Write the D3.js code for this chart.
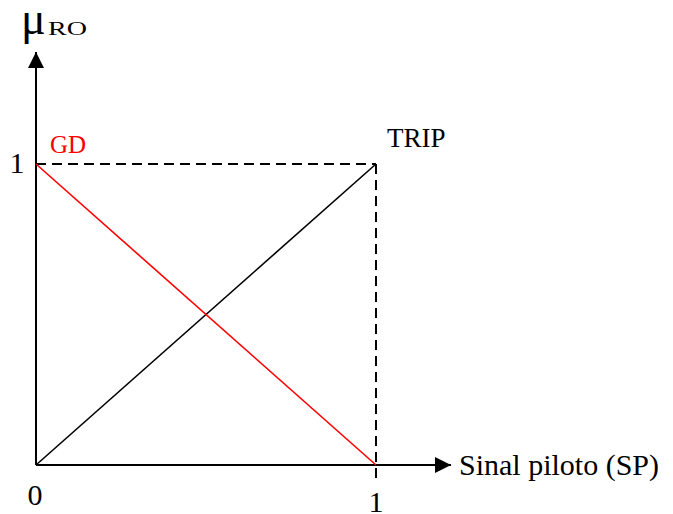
<!DOCTYPE html>
<html lang="pt">
<head>
<meta charset="UTF-8">
<title>Sinal piloto</title>
<script src="https://d3js.org/d3.v7.min.js"></script>
<style>
  body { margin: 0; padding: 0; background: #fff; }
  svg { display: block; font-family: "Liberation Serif", "Times New Roman", serif; }
</style>
</head>
<body>
<svg id="chart"></svg>
<script>
// membership functions for the pilot signal
const spValues = [0, 1];
const tripValues = [0, 1];
const gdValues = [1, 0];
const xTicks = [0, 1];
const yTicks = [1];

const width = 673, height = 514;
const svg = d3.select("#chart").attr("width", width).attr("height", height);

const x = d3.scaleLinear().domain([0, 1]).range([36, 376]);
const y = d3.scaleLinear().domain([0, 1]).range([465, 164]);

svg.append("defs").append("marker")
  .attr("id", "arrow")
  .attr("viewBox", "0 0 16 16")
  .attr("refX", 16).attr("refY", 8)
  .attr("markerWidth", 16).attr("markerHeight", 16)
  .attr("markerUnits", "userSpaceOnUse")
  .attr("orient", "auto")
  .append("path").attr("d", "M0,0 L16,8 L0,16 Z").attr("fill", "#000");

// dashed guides at 1
svg.append("line")
  .attr("x1", x(0)).attr("x2", x(1)).attr("y1", y(1)).attr("y2", y(1))
  .attr("stroke", "#000").attr("stroke-width", 2).attr("stroke-dasharray", "10,6");
svg.append("line")
  .attr("x1", x(1)).attr("x2", x(1)).attr("y1", y(1)).attr("y2", y(0) + 18)
  .attr("stroke", "#000").attr("stroke-width", 2).attr("stroke-dasharray", "10,6");

// axes
svg.append("line")
  .attr("x1", x(0)).attr("y1", y(0)).attr("x2", x(0)).attr("y2", 52)
  .attr("stroke", "#000").attr("stroke-width", 2).attr("marker-end", "url(#arrow)");
svg.append("line")
  .attr("x1", x(0)).attr("y1", y(0)).attr("x2", 451).attr("y2", y(0))
  .attr("stroke", "#000").attr("stroke-width", 2).attr("marker-end", "url(#arrow)");

const line = d3.line().x(d => x(d[0])).y(d => y(d[1]));

svg.append("path")
  .datum(spValues.map((v, i) => [v, tripValues[i]]))
  .attr("d", line).attr("fill", "none").attr("stroke", "#000").attr("stroke-width", 1.6);
svg.append("path")
  .datum(spValues.map((v, i) => [v, gdValues[i]]))
  .attr("d", line).attr("fill", "none").attr("stroke", "#ff0000").attr("stroke-width", 1.6);

// tick labels
svg.selectAll(".xt").data(xTicks).enter().append("text")
  .attr("x", d => x(d) - (d === 0 ? 1 : 0)).attr("y", d => d === 0 ? 505 : 512)
  .attr("text-anchor", "middle").attr("font-size", 30).text(d => d);
svg.selectAll(".yt").data(yTicks).enter().append("text")
  .attr("x", 17).attr("y", d => y(d) + 9)
  .attr("text-anchor", "middle").attr("font-size", 30).text(d => d);

// labels
svg.append("text").attr("x", 21).attr("y", 34).attr("font-size", 46).text("μ");
svg.append("text").attr("x", 48).attr("y", 35).attr("font-size", 19)
  .attr("textLength", 39).attr("lengthAdjust", "spacingAndGlyphs").text("RO");

svg.append("text").attr("x", 50).attr("y", 153)
  .attr("font-size", 25).attr("fill", "#ff0000").text("GD");
svg.append("text").attr("x", 387).attr("y", 147)
  .attr("font-size", 27).attr("fill", "#000").text("TRIP");
svg.append("text").attr("x", 459).attr("y", 475)
  .attr("font-size", 30).attr("fill", "#000").text("Sinal piloto (SP)");
</script>
</body>
</html>
